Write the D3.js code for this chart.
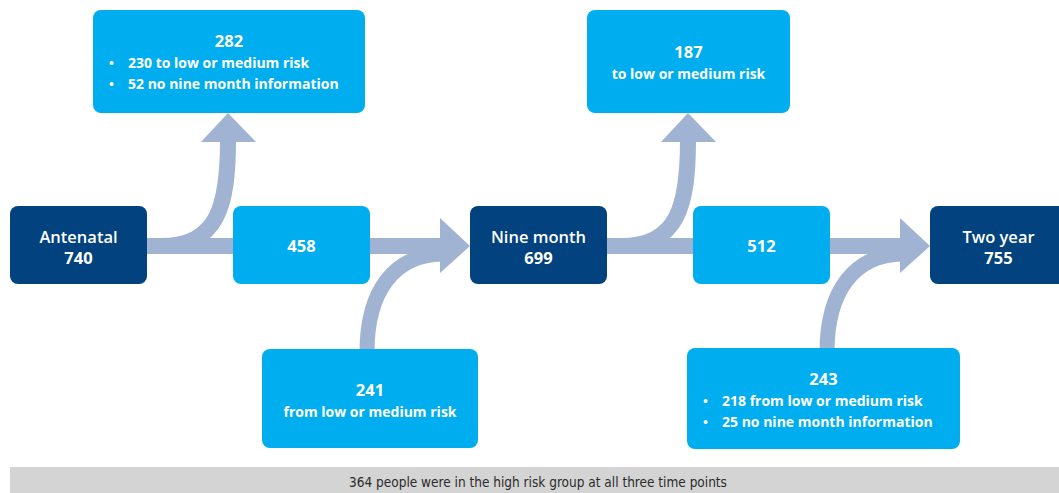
<!DOCTYPE html>
<html>
<head>
<meta charset="utf-8">
<script src="https://cdn.jsdelivr.net/npm/d3@7"></script>
<style>
  body { margin: 0; background: #fff; }
  svg { display: block; }
  text { font-family: "Open Sans", "DejaVu Sans", sans-serif; fill: #fff; }
</style>
</head>
<body>
<svg width="1059" height="493"></svg>
<script>
// Data
var stages = ["Antenatal", "Nine month", "Two year"];
var stageTotals = [740, 699, 755];
var stayedHigh = [458, 512];
var leftCounts = [282, 187];
var leftDetails = [["230 to low or medium risk", "52 no nine month information"], ["to low or medium risk"]];
var leftBullets = [true, false];
var joinedCounts = [241, 243];
var joinedDetails = [["from low or medium risk"], ["218 from low or medium risk", "25 no nine month information"]];
var joinedBullets = [false, true];
var footerNote = "364 people were in the high risk group at all three time points";

// Colours
var dark = "#02427e", light = "#00adee", flow = "#a1b3d3";

var svg = d3.select("svg");

// one step per time point
var x = d3.scaleLinear().domain([0, 2]).range([10, 930]);
var midY = 246;
var lineH = 21;

// box helpers
function box(g, x0, y0, w, h, fill) {
  g.append("rect")
    .attr("x", x0).attr("y", y0)
    .attr("width", w).attr("height", h)
    .attr("rx", 8).attr("ry", 8)
    .attr("fill", fill);
}

function lines(g, cx, x0, cy, title, rows, bullets) {
  var n = rows.length + 1;
  var base = function(i) { return cy + (i - (n - 1) / 2) * lineH + 7.5; };
  g.append("text")
    .attr("x", cx).attr("y", base(0))
    .attr("text-anchor", "middle")
    .style("font-size", "16.5px")
    .style("font-weight", 700)
    .text(title);
  rows.forEach(function(r, i) {
    if (bullets) {
      g.append("text").attr("x", x0 + 16).attr("y", base(i + 1))
        .style("font-size", "13px").style("font-weight", 700).text("\u2022");
      g.append("text").attr("x", x0 + 35).attr("y", base(i + 1))
        .style("font-size", "14px").style("font-weight", 700).text(r);
    } else {
      g.append("text").attr("x", cx).attr("y", base(i + 1))
        .attr("text-anchor", "middle")
        .style("font-size", "14px").style("font-weight", 700).text(r);
    }
  });
}

var flows = svg.append("g").attr("class", "flows");
var boxes = svg.append("g").attr("class", "boxes");

// arrows between time points
d3.range(stages.length - 1).forEach(function(i) {
  var o = x(i);
  // straight band
  flows.append("path")
    .attr("d", "M" + (o + 137) + "," + midY + "H" + (o + 432))
    .attr("stroke", flow).attr("stroke-width", 16).attr("fill", "none");
  flows.append("path")
    .attr("d", "M" + (o + 430) + "," + (midY - 28) + "L" + (o + 460) + "," + midY + "L" + (o + 430) + "," + (midY + 27) + "Z")
    .attr("fill", flow);
  // branch up to those leaving high risk
  flows.append("path")
    .attr("d", "M" + (o + 150) + "," + midY + "C" + (o + 208) + "," + midY + " " + (o + 218) + "," + (midY - 40) + " " + (o + 218) + "," + (midY - 106))
    .attr("stroke", flow).attr("stroke-width", 16).attr("fill", "none");
  flows.append("path")
    .attr("d", "M" + (o + 191) + "," + 142 + "L" + (o + 218) + "," + 113 + "L" + (o + 246) + "," + 142 + "Z")
    .attr("fill", flow);
  // branch in from those joining high risk
  flows.append("path")
    .attr("d", "M" + (o + 357) + ",352C" + (o + 357) + ",290 " + (o + 385) + "," + (midY + 9) + " " + (o + 432) + "," + (midY + 8))
    .attr("stroke", flow).attr("stroke-width", 15).attr("fill", "none");
});

// time point boxes
stages.forEach(function(s, i) {
  var g = boxes.append("g");
  box(g, x(i), 206, 137, 78, dark);
  g.append("text")
    .attr("x", x(i) + 68.5).attr("y", midY - 3.5)
    .attr("text-anchor", "middle")
    .style("font-size", "16.5px").style("font-weight", 600)
    .text(s);
  g.append("text")
    .attr("x", x(i) + 68.5).attr("y", midY + 17.5)
    .attr("text-anchor", "middle")
    .style("font-size", "16.5px").style("font-weight", 700)
    .text(stageTotals[i]);
});

// stayed in high risk
stayedHigh.forEach(function(v, i) {
  var g = boxes.append("g");
  var o = x(i) + 223;
  box(g, o, 206, 137, 78, light);
  g.append("text")
    .attr("x", o + 68.5).attr("y", midY + 6)
    .attr("text-anchor", "middle")
    .style("font-size", "16.5px").style("font-weight", 700)
    .text(v);
});

// left high risk (top)
var topW = [272, 203];
var topX = [83, 117];
leftCounts.forEach(function(v, i) {
  var g = boxes.append("g");
  var o = x(i) + topX[i];
  box(g, o, 10, topW[i], 103, light);
  lines(g, o + topW[i] / 2, o, 60.5, v, leftDetails[i], leftBullets[i]);
});

// joined high risk (bottom)
var botW = [216, 273];
var botX = [252, 217];
var botY = [349, 348];
var botH = [99, 101];
joinedCounts.forEach(function(v, i) {
  var g = boxes.append("g");
  var o = x(i) + botX[i];
  box(g, o, botY[i], botW[i], botH[i], light);
  lines(g, o + botW[i] / 2, o, botY[i] + botH[i] / 2, v, joinedDetails[i], joinedBullets[i]);
});

// footer note
svg.append("rect")
  .attr("x", 10).attr("y", 467)
  .attr("width", 1049).attr("height", 26)
  .attr("fill", "#d4d4d4");
svg.append("text")
  .attr("x", 538).attr("y", 487)
  .attr("text-anchor", "middle")
  .style("font-family", "'Liberation Sans Narrow', 'DejaVu Sans Condensed', sans-serif")
  .style("font-size", "13.5px")
  .style("fill", "#2b2b2b")
  .text(footerNote);
</script>
</body>
</html>
